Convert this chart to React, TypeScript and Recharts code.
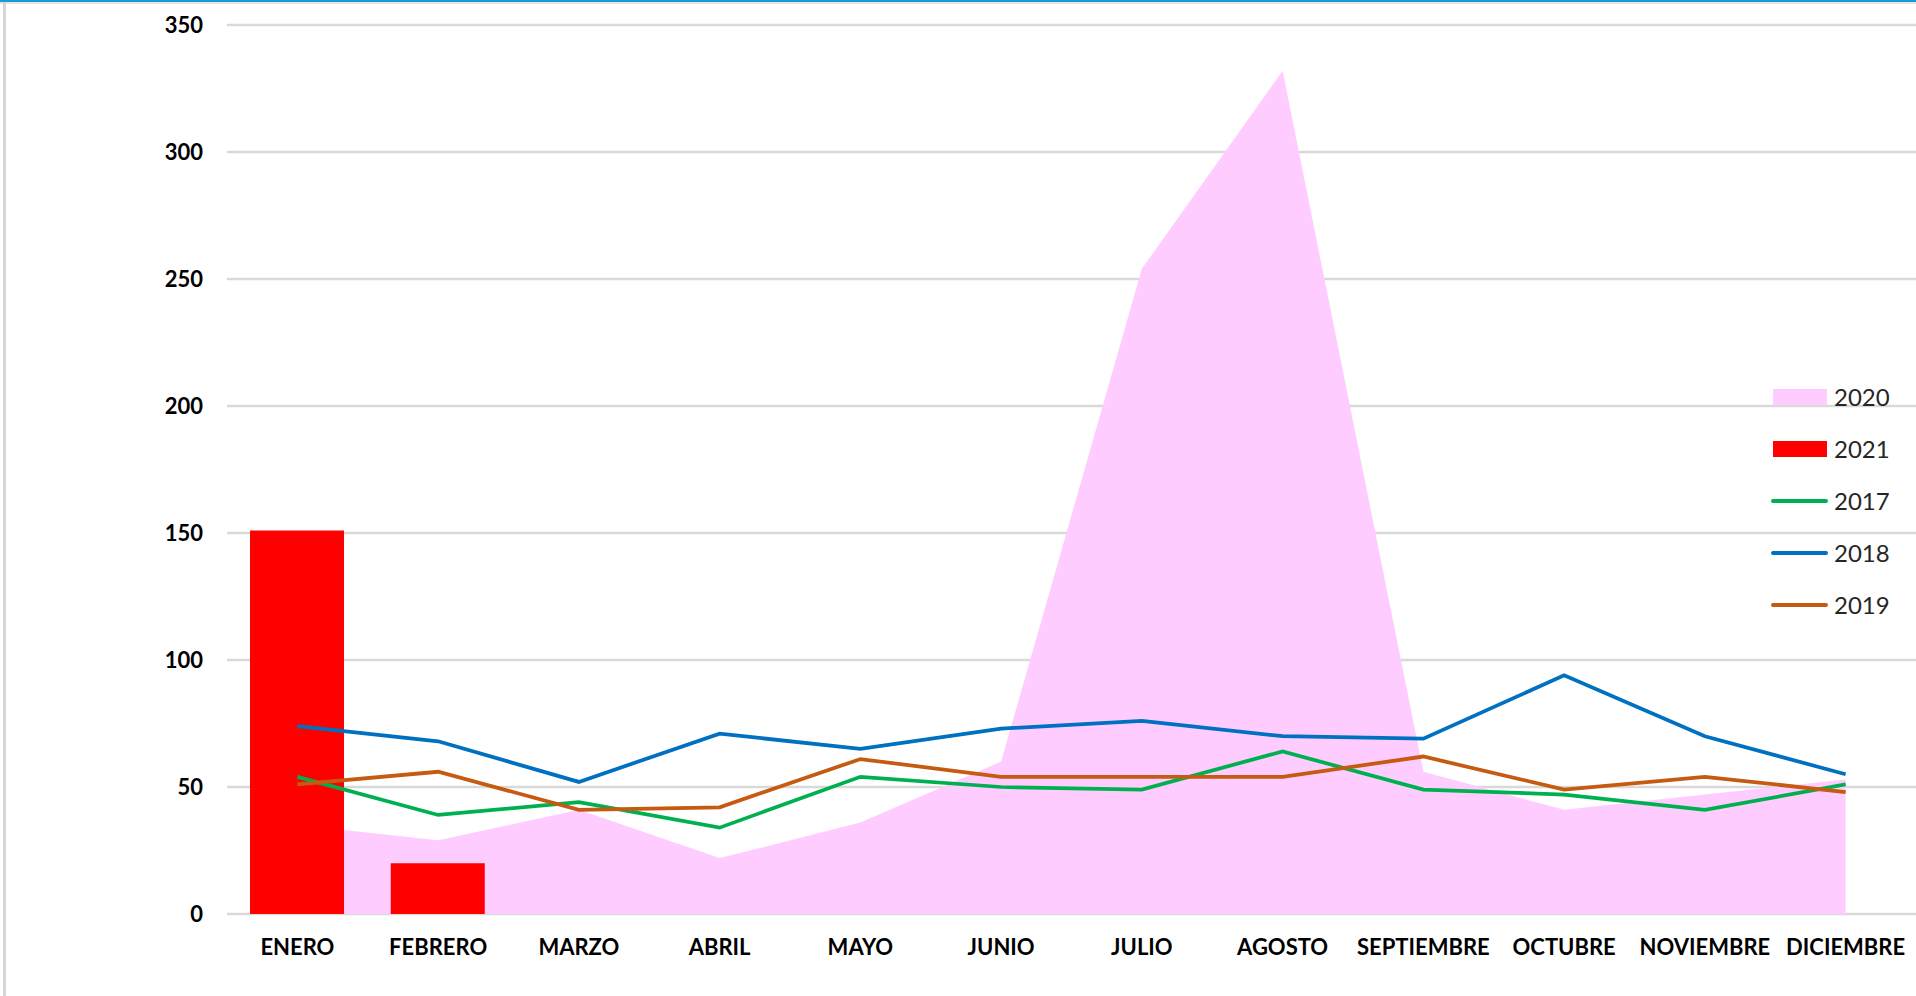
import { ComposedChart, Area, Bar, Line, XAxis, YAxis, CartesianGrid } from 'recharts';

const months = ['ENERO', 'FEBRERO', 'MARZO', 'ABRIL', 'MAYO', 'JUNIO', 'JULIO', 'AGOSTO', 'SEPTIEMBRE', 'OCTUBRE', 'NOVIEMBRE', 'DICIEMBRE'];
const v2017 = [54, 39, 44, 34, 54, 50, 49, 64, 49, 47, 41, 51];
const v2018 = [74, 68, 52, 71, 65, 73, 76, 70, 69, 94, 70, 55];
const v2019 = [51, 56, 41, 42, 61, 54, 54, 54, 62, 49, 54, 48];
const v2020 = [35, 29, 41, 22, 36, 60, 254, 332, 56, 41, 47, 53];
const v2021: (number | null)[] = [151, 20, null, null, null, null, null, null, null, null, null, null];
const yTicks = [0, 50, 100, 150, 200, 250, 300, 350];

const legendItems = [
    { name: '2020', color: '#FFCCFF', kind: 'box' },
    { name: '2021', color: '#FF0000', kind: 'box' },
    { name: '2017', color: '#00B050', kind: 'line' },
    { name: '2018', color: '#0070C0', kind: 'line' },
    { name: '2019', color: '#C55A11', kind: 'line' },
];

const font = 'Lato, "Open Sans", sans-serif';

export default function App() {
    const data = months.map((m, i) => ({
        month: m,
        y2017: v2017[i],
        y2018: v2018[i],
        y2019: v2019[i],
        y2020: v2020[i],
        y2021: v2021[i],
    }));

    const tick = { fill: '#000', fontSize: 22, fontWeight: 700, fontFamily: font };

    return (
        <div style={{ position: 'absolute', left: 0, top: 0, width: 1916, height: 996, background: '#fff', overflow: 'hidden' }}>
            <div style={{ position: 'absolute', left: 0, top: 0, width: 1916, height: 2, background: '#1A9BD7' }} />
            <div style={{ position: 'absolute', left: 0, top: 2, width: 1916, height: 2, background: '#e4e4e4' }} />
            <div style={{ position: 'absolute', left: 3, top: 2, width: 3, height: 994, background: '#d6d6d6' }} />
            <ComposedChart
                width={1916}
                height={996}
                data={data}
                margin={{ top: 25, right: 0, bottom: 0, left: 0 }}
            >
                <CartesianGrid vertical={false} stroke="#d9d9d9" strokeWidth={2.5} />
                <XAxis
                    dataKey="month"
                    interval={0}
                    height={82}
                    axisLine={false}
                    tickLine={false}
                    tickSize={0}
                    tickMargin={25}
                    tick={tick}
                />
                <YAxis
                    width={227}
                    domain={[0, 350]}
                    ticks={yTicks}
                    axisLine={false}
                    tickLine={false}
                    tickSize={0}
                    tickMargin={24}
                    tick={tick}
                />
                <Area dataKey="y2020" type="linear" fill="#FFCCFF" fillOpacity={1} stroke="none" isAnimationActive={false} />
                <Bar dataKey="y2021" barSize={94} fill="#FF0000" isAnimationActive={false} />
                <Line dataKey="y2017" type="linear" stroke="#00B050" strokeWidth={3.75} dot={false} activeDot={false} isAnimationActive={false} />
                <Line dataKey="y2018" type="linear" stroke="#0070C0" strokeWidth={3.75} dot={false} activeDot={false} isAnimationActive={false} />
                <Line dataKey="y2019" type="linear" stroke="#C55A11" strokeWidth={3.75} dot={false} activeDot={false} isAnimationActive={false} />
            </ComposedChart>
            {legendItems.map((item, i) => (
                <div
                    key={item.name}
                    style={{ position: 'absolute', left: 1771, top: 397 + i * 52 - 15, height: 30, display: 'flex', alignItems: 'center' }}
                >
                    <div style={{ width: 57, height: 30, display: 'flex', alignItems: 'center', justifyContent: 'center' }}>
                        {item.kind === 'box'
                            ? <div style={{ width: 54, height: 16, background: item.color }} />
                            : <div style={{ width: 57, height: 4, borderRadius: 2, background: item.color }} />}
                    </div>
                    <span style={{ marginLeft: 6, fontFamily: font, fontSize: 24, color: '#262626', lineHeight: '30px' }}>{item.name}</span>
                </div>
            ))}
        </div>
    );
}
